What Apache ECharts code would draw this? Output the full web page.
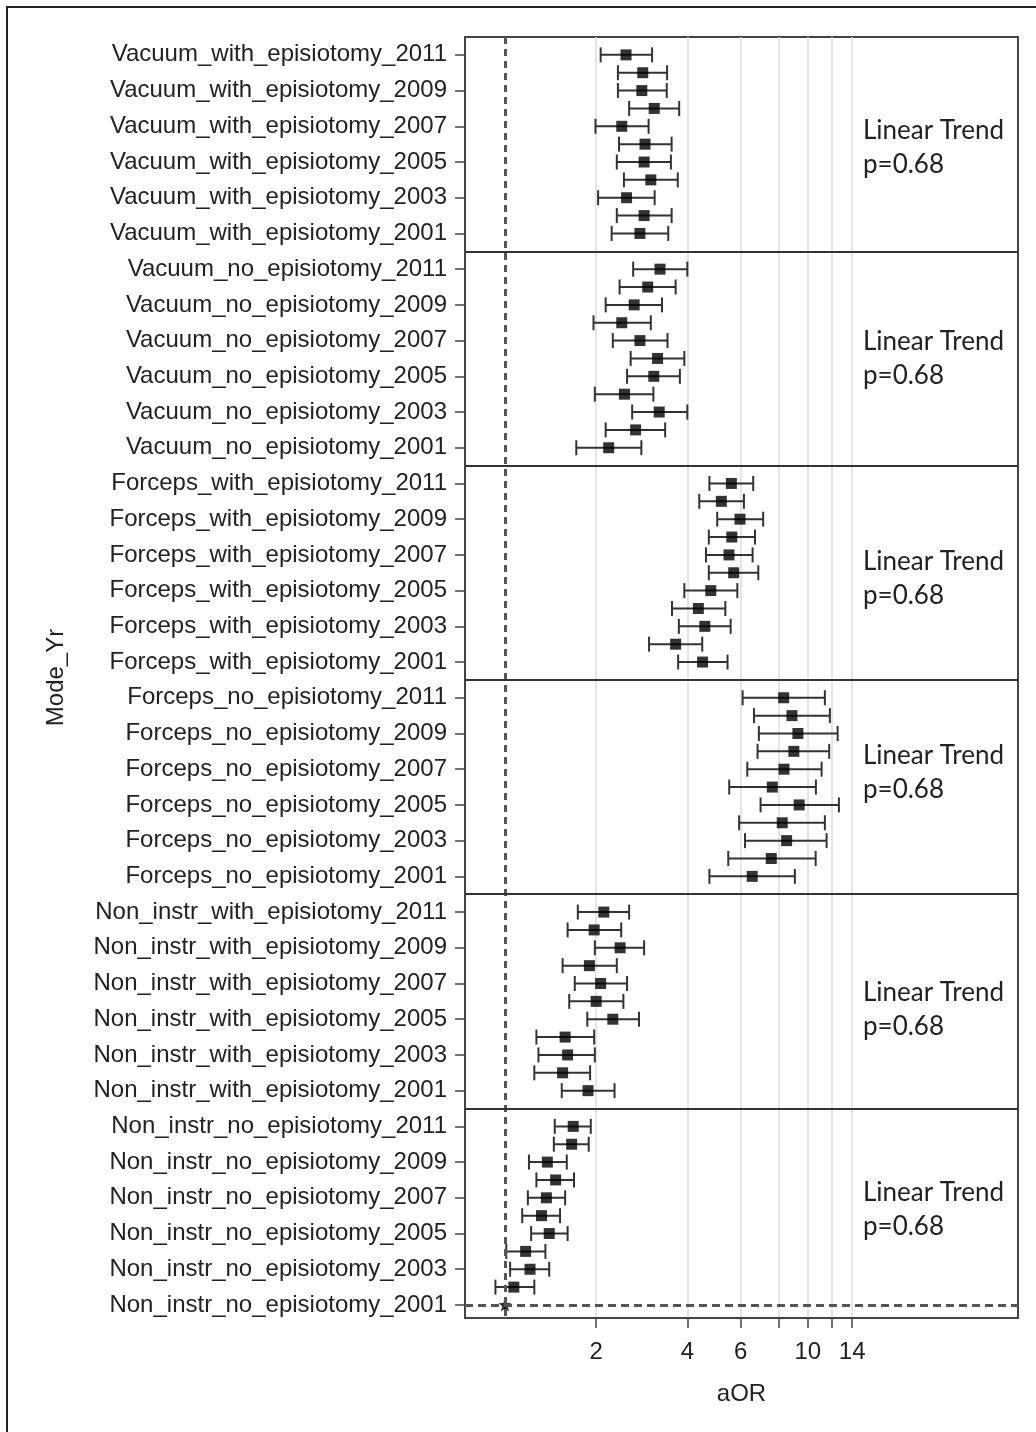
<!DOCTYPE html>
<html>
<head>
<meta charset="utf-8">
<script src="https://cdn.jsdelivr.net/npm/echarts@6/dist/echarts.min.js"></script>
<style>
    html, body { margin: 0; padding: 0; background: #fff; }
    #chart { width: 1036px; height: 1432px; }
</style>
</head>
<body>
<div id="chart"></div>
<script>
// Categories
const groups = [
    'Vacuum_with_episiotomy',
    'Vacuum_no_episiotomy',
    'Forceps_with_episiotomy',
    'Forceps_no_episiotomy',
    'Non_instr_with_episiotomy',
    'Non_instr_no_episiotomy'
];
const years = [2011, 2010, 2009, 2008, 2007, 2006, 2005, 2004, 2003, 2002, 2001];
const labelYears = [2011, 2009, 2007, 2005, 2003, 2001];

// Tick values of the aOR axis
const xTickValues = [2, 4, 6, 8, 10, 12, 14];
const xLabelValues = [2, 4, 6, 10, 14];
const refValue = 1;

// aOR estimates per group, years 2011 -> 2001
const aOR = [
    [2.51, 2.85, 2.83, 3.11, 2.43, 2.90, 2.88, 3.03, 2.52, 2.88, 2.79],
    [3.25, 2.96, 2.67, 2.43, 2.79, 3.19, 3.10, 2.48, 3.23, 2.70, 2.20],
    [5.59, 5.18, 5.97, 5.61, 5.49, 5.69, 4.78, 4.35, 4.57, 3.66, 4.49],
    [8.32, 8.86, 9.27, 8.99, 8.34, 7.63, 9.36, 8.23, 8.51, 7.57, 6.55],
    [2.12, 1.97, 2.40, 1.90, 2.07, 2.00, 2.27, 1.58, 1.61, 1.55, 1.88],
    [1.68, 1.66, 1.38, 1.47, 1.37, 1.32, 1.40, 1.17, 1.21, 1.07, 1.00]
];
// lower 95% limits
const ciLow = [
    [2.07, 2.36, 2.36, 2.57, 1.99, 2.38, 2.34, 2.47, 2.03, 2.34, 2.25],
    [2.65, 2.39, 2.15, 1.96, 2.27, 2.60, 2.53, 1.98, 2.63, 2.15, 1.72],
    [4.73, 4.38, 5.02, 4.71, 4.61, 4.71, 3.91, 3.56, 3.75, 2.99, 3.73],
    [6.09, 6.64, 6.89, 6.82, 6.31, 5.50, 6.98, 5.93, 6.20, 5.46, 4.73],
    [1.74, 1.61, 1.98, 1.55, 1.70, 1.63, 1.87, 1.27, 1.29, 1.25, 1.54],
    [1.46, 1.45, 1.20, 1.27, 1.19, 1.14, 1.22, 1.01, 1.04, 0.93, 1.00]
];
// upper 95% limits
const ciHigh = [
    [3.06, 3.43, 3.42, 3.76, 2.98, 3.55, 3.53, 3.72, 3.12, 3.55, 3.46],
    [4.00, 3.66, 3.30, 3.03, 3.44, 3.91, 3.78, 3.09, 4.00, 3.38, 2.82],
    [6.60, 6.15, 7.12, 6.69, 6.57, 6.86, 5.85, 5.34, 5.56, 4.48, 5.43],
    [11.38, 11.82, 12.54, 11.76, 11.10, 10.63, 12.66, 11.38, 11.53, 10.61, 9.06],
    [2.57, 2.42, 2.88, 2.34, 2.53, 2.46, 2.77, 1.97, 1.98, 1.91, 2.30],
    [1.92, 1.89, 1.60, 1.69, 1.58, 1.52, 1.61, 1.36, 1.40, 1.25, 1.00]
];

const trendLines = ['Linear Trend', 'p=0.68'];
const trendTop = [114, 325, 545, 739, 976, 1176];

// each group takes one row per year plus one spacer row
const rowsPerGroup = years.length + 1;
const rowPos = (g, k) => g * rowsPerGroup + k;
const lastRow = rowPos(groups.length - 1, years.length - 1);

const rowLabels = {};
const labelRows = [];
groups.forEach((grp, g) => {
    years.forEach((yr, k) => {
        if (labelYears.includes(yr)) {
            rowLabels[rowPos(g, k)] = grp + '_' + yr;
            labelRows.push(rowPos(g, k));
        }
    });
});

const ciData = [];
const pointData = [];
groups.forEach((grp, g) => {
    years.forEach((yr, k) => {
        const pos = rowPos(g, k);
        const isRef = g === groups.length - 1 && k === years.length - 1;
        ciData.push([ciLow[g][k], ciHigh[g][k], pos]);
        pointData.push({
            value: [aOR[g][k], pos],
            symbol: isRef ? 'path://M0,-10 L2.5,-3.5 L9.5,-3 L4,1.5 L6,9 L0,5 L-6,9 L-4,1.5 L-9.5,-3 L-2.5,-3.5 Z' : 'rect',
            symbolSize: isRef ? 13 : 11
        });
    });
});

// solid lines between the groups, in the spacer rows
const separators = groups.slice(1).map((grp, i) => ({
    yAxis: rowPos(i + 1, 0) - 1,
    lineStyle: { color: '#333', width: 2, type: 'solid' }
}));

const labelFont = 'Liberation Sans, Arial, sans-serif';

const chart = echarts.init(document.getElementById('chart'));

const option = {
    animation: false,
    backgroundColor: '#fff',
    grid: {
        left: 465,
        top: 37,
        width: 553,
        height: 1281,
        show: true,
        borderColor: '#444',
        borderWidth: 2,
        containLabel: false,
        outerBoundsMode: 'none'
    },
    xAxis: {
        type: 'log',
        logBase: 2,
        min: 0.738,
        max: 49.4,
        name: 'aOR',
        nameLocation: 'middle',
        nameGap: 64,
        nameTextStyle: { fontSize: 24, fontFamily: labelFont, color: '#222' },
        axisLine: { show: true, onZero: false, lineStyle: { color: '#444', width: 2 } },
        axisTick: {
            show: true,
            inside: false,
            length: 10,
            customValues: xTickValues,
            lineStyle: { color: '#444', width: 1.5 }
        },
        axisLabel: {
            customValues: xLabelValues,
            margin: 22,
            fontSize: 24,
            fontFamily: labelFont,
            color: '#222'
        },
        splitLine: { show: true, lineStyle: { color: '#dcdcdc', width: 1.5 } }
    },
    yAxis: {
        type: 'value',
        inverse: true,
        min: -1,
        max: lastRow + 0.73,
        name: 'Mode_Yr',
        nameLocation: 'middle',
        nameGap: 397,
        nameRotate: 90,
        nameTextStyle: { fontSize: 24, fontFamily: labelFont, color: '#222' },
        axisLine: { show: true, onZero: false, lineStyle: { color: '#444', width: 2 } },
        axisTick: {
            show: true,
            length: 10,
            customValues: labelRows,
            lineStyle: { color: '#444', width: 1.5 }
        },
        axisLabel: {
            customValues: labelRows,
            margin: 18,
            fontSize: 24,
            fontFamily: labelFont,
            color: '#222',
            formatter: function (val) {
                return rowLabels[Math.round(val)] || '';
            }
        },
        splitLine: { show: false }
    },
    series: [
        {
            name: 'CI',
            type: 'custom',
            silent: true,
            encode: { x: [0, 1], y: 2 },
            data: ciData,
            renderItem: function (params, api) {
                const lo = api.coord([api.value(0), api.value(2)]);
                const hi = api.coord([api.value(1), api.value(2)]);
                const cap = 7.5;
                const style = { stroke: '#333', lineWidth: 2 };
                return {
                    type: 'group',
                    children: [
                        { type: 'line', shape: { x1: lo[0], y1: lo[1], x2: hi[0], y2: hi[1] }, style: style },
                        { type: 'line', shape: { x1: lo[0], y1: lo[1] - cap, x2: lo[0], y2: lo[1] + cap }, style: style },
                        { type: 'line', shape: { x1: hi[0], y1: hi[1] - cap, x2: hi[0], y2: hi[1] + cap }, style: style }
                    ]
                };
            },
            z: 2
        },
        {
            name: 'aOR',
            type: 'scatter',
            data: pointData,
            itemStyle: { color: '#000' },
            z: 3,
            markLine: {
                silent: true,
                symbol: ['none', 'none'],
                label: { show: false },
                data: [
                    { xAxis: refValue, lineStyle: { color: '#555', width: 3, type: [7, 5] } },
                    { yAxis: lastRow, lineStyle: { color: '#555', width: 3, type: [8, 5] } }
                ].concat(separators)
            }
        }
    ],
    graphic: [
        {
            type: 'polyline',
            shape: { points: [[7, 1432], [7, 7], [1036, 7]] },
            style: { stroke: '#222', lineWidth: 2, fill: null }
        }
    ].concat(trendTop.map(top => ({
        type: 'text',
        left: 863,
        top: top,
        style: {
            text: trendLines.join('\n'),
            font: '26px Lato, "Open Sans", sans-serif',
            lineHeight: 34,
            fill: '#222'
        }
    })))
};

chart.setOption(option);
</script>
</body>
</html>
